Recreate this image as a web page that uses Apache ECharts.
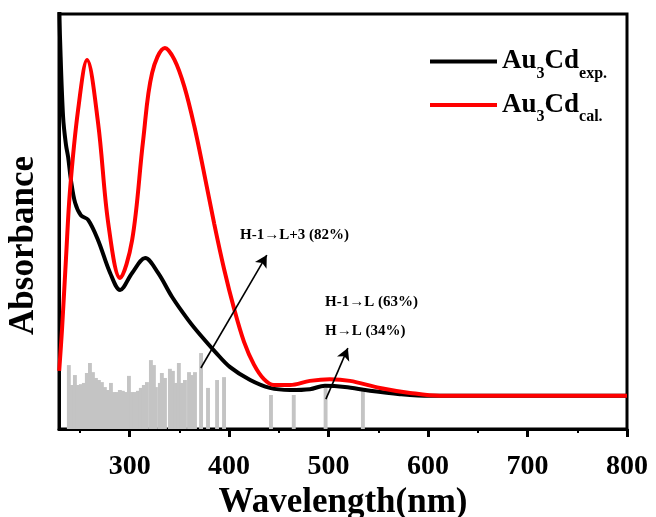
<!DOCTYPE html>
<html>
<head>
<meta charset="utf-8">
<script src="https://cdn.jsdelivr.net/npm/echarts@6/dist/echarts.min.js"></script>
<style>
html,body{margin:0;padding:0;background:#fff;}
#chart{width:656px;height:517px;}
</style>
</head>
<body>
<div id="chart"></div>
<script>
// ---- data ----
var xMajorTicks = [300, 400, 500, 600, 700, 800];
var xMinorTicks = [250, 350, 450, 550, 650, 750];

var expWl  = [229.3, 230.1, 233.1, 236, 238.2, 241, 245.2, 251, 258.3, 268.3, 280.4, 290.4, 302.5, 315.6, 328.6, 342.7, 358.8, 370.9, 386.0, 401.0, 421.2, 441.0, 461.1, 481.2, 496.3, 516.4, 541.6, 571.7, 601.9, 650, 700, 750, 800];
var expAbs = [102, 93.7, 75.2, 68.5, 65.5, 60, 54.5, 51.5, 50.4, 45.5, 37.6, 33.5, 37.6, 41.2, 37.6, 31.8, 26.3, 22.7, 18.6, 14.9, 11.8, 9.9, 9.4, 9.6, 10.4, 10.1, 9.2, 8.4, 8.0, 8.0, 8.0, 8.0, 8.0];

var calWl  = [229.2, 232.0, 236, 240.1, 248.2, 257.2, 268.3, 278.5, 290.4, 302.5, 313.6, 322.6, 335.5, 345, 355, 365, 375, 385, 395, 405, 415, 425, 435, 445, 461.1, 481.2, 501.3, 521.4, 551.6, 581.8, 611.9, 650, 700, 750, 800];
var calAbs = [14, 23.9, 41, 57.6, 76.9, 88.9, 73.7, 49.6, 36.4, 45.5, 69.6, 85.8, 91.8, 89, 82.5, 73, 61.5, 49.5, 38.5, 29, 21, 15.5, 12, 10.6, 10.6, 11.6, 12.0, 11.6, 9.9, 8.7, 8.0, 8.0, 8.0, 8.0, 8.0];

var barWl  = [238.9, 241.9, 245.0, 248.0, 251.0, 254.0, 257.0, 260.1, 263.1, 266.1, 269.1, 272.1, 275.1, 278.2, 281.2, 284.2, 287.2, 290.2, 293.2, 296.2, 299.3, 302.3, 305.3, 308.3, 311.3, 314.3, 317.4, 321.4, 324.4, 326.4, 330.4, 332.4, 335.5, 340.5, 343.5, 346.5, 349.5, 352.5, 355.6, 359.7, 362.7, 365.7, 371.8, 378.8, 387.9, 394.9, 442.1, 465.0, 497.0, 534.5];
var barVal = [15.4, 10.6, 13.0, 10.6, 10.8, 11.1, 13.5, 15.9, 13.7, 12.3, 11.8, 11.3, 10.1, 9.4, 11.1, 8.9, 8.9, 9.4, 9.2, 8.9, 12.8, 8.9, 8.9, 9.2, 9.9, 10.6, 11.3, 16.6, 15.4, 10.1, 11.1, 13.5, 12.3, 14.5, 14.0, 11.1, 15.9, 11.1, 11.8, 13.7, 13.0, 13.7, 18.3, 9.9, 11.8, 12.5, 8.2, 8.2, 10.1, 9.2];

// annotation arrows: [startWl, startAbs, endWl, endAbs]
var arrow1 = [371.6, 14.7, 437.9, 41.9];
var arrow2 = [497.3, 7.2, 519.4, 19.5];
var annot1 = 'H-1\u2192L+3 (82%)';
var annot2 = 'H-1\u2192L (63%)';
var annot3 = 'H\u2192L (34%)';

function zip(a, b) { return a.map(function (v, i) { return [v, b[i]]; }); }

var SERIF = '"Liberation Serif", "Times New Roman", serif';
var chart = echarts.init(document.getElementById('chart'), null, {renderer: 'canvas'});

var richLegend = {
  a: {fontSize: 27, fontWeight: 'bold', fontFamily: SERIF, color: '#000', lineHeight: 40},
  s: {fontSize: 16, fontWeight: 'bold', fontFamily: SERIF, color: '#000', lineHeight: 16, verticalAlign: 'bottom'}
};

chart.setOption({
  animation: false,
  backgroundColor: '#fff',
  grid: {left: 59, right: 29, top: 14, bottom: 88, show: true, borderColor: '#000', borderWidth: 3,
         backgroundColor: 'transparent', containLabel: false, outerBoundsMode: 'none'},
  legend: {
    orient: 'vertical', left: 430, top: 48, padding: 0, itemWidth: 67, itemHeight: 4, itemGap: 10,
    icon: 'rect',
    data: ['exp', 'cal'],
    formatter: function (n) { return n === 'exp' ? '{a|Au}{s|3}{a|Cd}{s|exp.}' : '{a|Au}{s|3}{a|Cd}{s|cal.}'; },
    textStyle: {rich: richLegend}
  },
  xAxis: [{
    type: 'value', min: 229, max: 800,
    name: 'Wavelength(nm)', nameLocation: 'middle', nameGap: 56,
    nameTextStyle: {fontFamily: SERIF, fontWeight: 'bold', fontSize: 35, color: '#000'},
    axisLine: {show: true, onZero: false, lineStyle: {color: '#000', width: 3}},
    axisTick: {show: true, length: 8, lineStyle: {color: '#000', width: 3}, customValues: xMajorTicks},
    axisLabel: {customValues: xMajorTicks, margin: 24, fontFamily: SERIF, fontWeight: 'bold', fontSize: 28, color: '#000'},
    splitLine: {show: false}
  }, {
    type: 'value', min: 229, max: 800, position: 'bottom',
    axisLine: {show: false},
    axisTick: {show: true, length: 4, lineStyle: {color: '#000', width: 2}, customValues: xMinorTicks},
    axisLabel: {show: false},
    splitLine: {show: false}
  }],
  yAxis: {
    type: 'value', min: 0, max: 100,
    name: 'Absorbance', nameLocation: 'middle', nameGap: 18, nameRotate: 90,
    nameTextStyle: {fontFamily: SERIF, fontWeight: 'bold', fontSize: 35, color: '#000', padding: [0, 48, 0, 0]},
    axisLine: {show: true, lineStyle: {color: '#000', width: 3}},
    axisTick: {show: false}, axisLabel: {show: false}, splitLine: {show: false}
  },
  graphic: [
    {type: 'text', left: 240, top: 228, style: {text: annot1, font: 'bold 15px ' + SERIF, fill: '#000'}},
    {type: 'text', left: 325, top: 295, style: {text: annot2, font: 'bold 15px ' + SERIF, fill: '#000'}},
    {type: 'text', left: 325, top: 324, style: {text: annot3, font: 'bold 15px ' + SERIF, fill: '#000'}}
  ],
  series: [{
    type: 'bar', name: 'bars', xAxisIndex: 0, data: zip(barWl, barVal), barWidth: 3.9, z: 1,
    itemStyle: {color: '#c4c4c4'}, silent: true
  }, {
    type: 'line', name: 'exp', data: zip(expWl, expAbs), smooth: 0.35, showSymbol: false, symbol: 'none', z: 3,
    lineStyle: {color: '#000', width: 4}, itemStyle: {color: '#000'},
    markLine: {
      silent: true, symbol: ['none', 'arrow'], symbolSize: [10, 12], label: {show: false},
      lineStyle: {color: '#000', width: 1.6, type: 'solid'},
      data: [
        [{coord: [arrow1[0], arrow1[1]]}, {coord: [arrow1[2], arrow1[3]]}],
        [{coord: [arrow2[0], arrow2[1]]}, {coord: [arrow2[2], arrow2[3]]}]
      ]
    }
  }, {
    type: 'line', name: 'cal', data: zip(calWl, calAbs), smooth: 0.35, showSymbol: false, symbol: 'none', z: 4,
    lineStyle: {color: '#ff0000', width: 4}, itemStyle: {color: '#ff0000'}
  }]
});
</script>
</body>
</html>
